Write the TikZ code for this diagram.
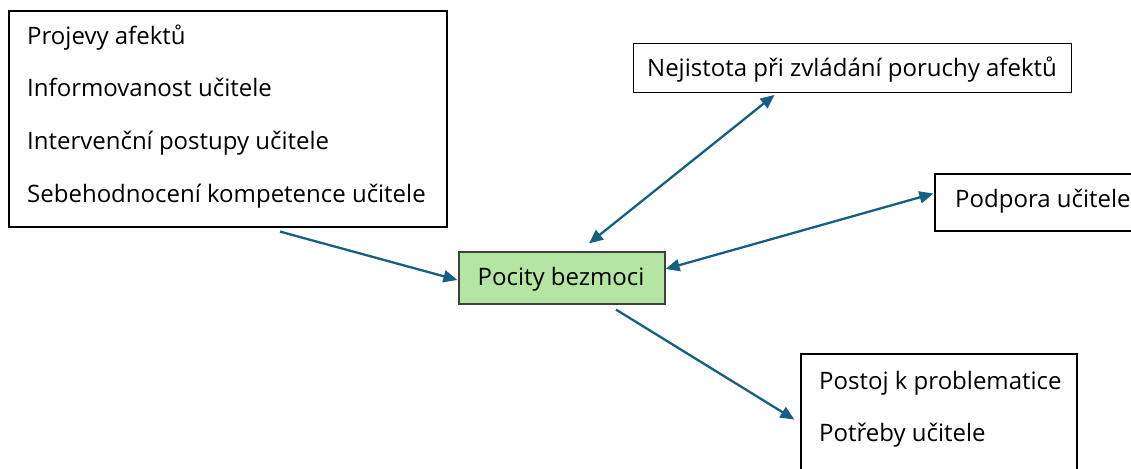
\documentclass[tikz,border=0pt]{standalone}
\usepackage{fontspec}
\setmainfont{Open Sans}
\usetikzlibrary{arrows.meta,calc}
\definecolor{linkblue}{HTML}{156082}
\definecolor{softgreen}{HTML}{B4E5A2}
\tikzset{
  box/.style={draw=black, line width=1.2pt, rectangle, inner sep=0pt},
  greenbox/.style={box, fill=softgreen, draw=black!75},
  txt/.style={inner sep=0pt, font=\fontsize{24}{29}\selectfont},
  link/.style={draw=linkblue, line width=2.3pt, -{Triangle[length=14pt,width=12pt]}},
  dlink/.style={draw=linkblue, line width=2.3pt, {Triangle[length=14pt,width=12pt]}-{Triangle[length=14pt,width=12pt]}}
}
\begin{document}
\begin{tikzpicture}[x=1pt, y=-1pt]
  \useasboundingbox (0,0) rectangle (1131,468);

  % boxes
  \node[box, minimum width=438pt, minimum height=216pt] (factors) at (228,119) {};
  \node[greenbox, minimum width=206pt, minimum height=52pt] (core) at (562,278) {};
  \node[box, minimum width=438.4pt, minimum height=49pt] (doubt) at (852.5,67.8) {};
  \node[box, minimum width=210pt, minimum height=57pt] (support) at (1040,202.5) {};
  \node[box, minimum width=276pt, minimum height=131pt] (needs) at (939,419.5) {};

  % labels
  \node[txt, anchor=base west] (f1) at (27,44.3) {Projevy afektů};
  \node[txt, anchor=base west] (f2) at (27,96.7) {Informovanost učitele};
  \node[txt, anchor=base west] (f3) at (27,149.7) {Intervenční postupy učitele};
  \node[txt, anchor=base west] (f4) at (27,202) {Sebehodnocení kompetence učitele};
  \node[txt, anchor=base] (corelbl) at (561,285.7) {Pocity bezmoci};
  \node[txt, anchor=base] (doubtlbl) at (852,76.7) {Nejistota při zvládání poruchy afektů};
  \node[txt, anchor=base west] (supportlbl) at (955,207.7) {Podpora učitele};
  \node[txt, anchor=base west] (n1) at (819,389) {Postoj k problematice};
  \node[txt, anchor=base west] (n2) at (819,441) {Potřeby učitele};

  % connectors
  \coordinate (fromfactors) at ([shift={(52,4)}]factors.south);
  \draw[link] (fromfactors) -- ([shift={(-1,2)}]core.west);
  \draw[dlink] ([shift={(27,-8)}]core.north) -- ([shift={(-78,2)}]doubt.south);
  \draw[dlink] ([shift={(0,-9)}]core.east) -- ([shift={(-1,-9)}]support.west);
  \draw[link] ([shift={(54,5)}]core.south) -- ([shift={(-6,0)}]needs.west);
\end{tikzpicture}
\end{document}
